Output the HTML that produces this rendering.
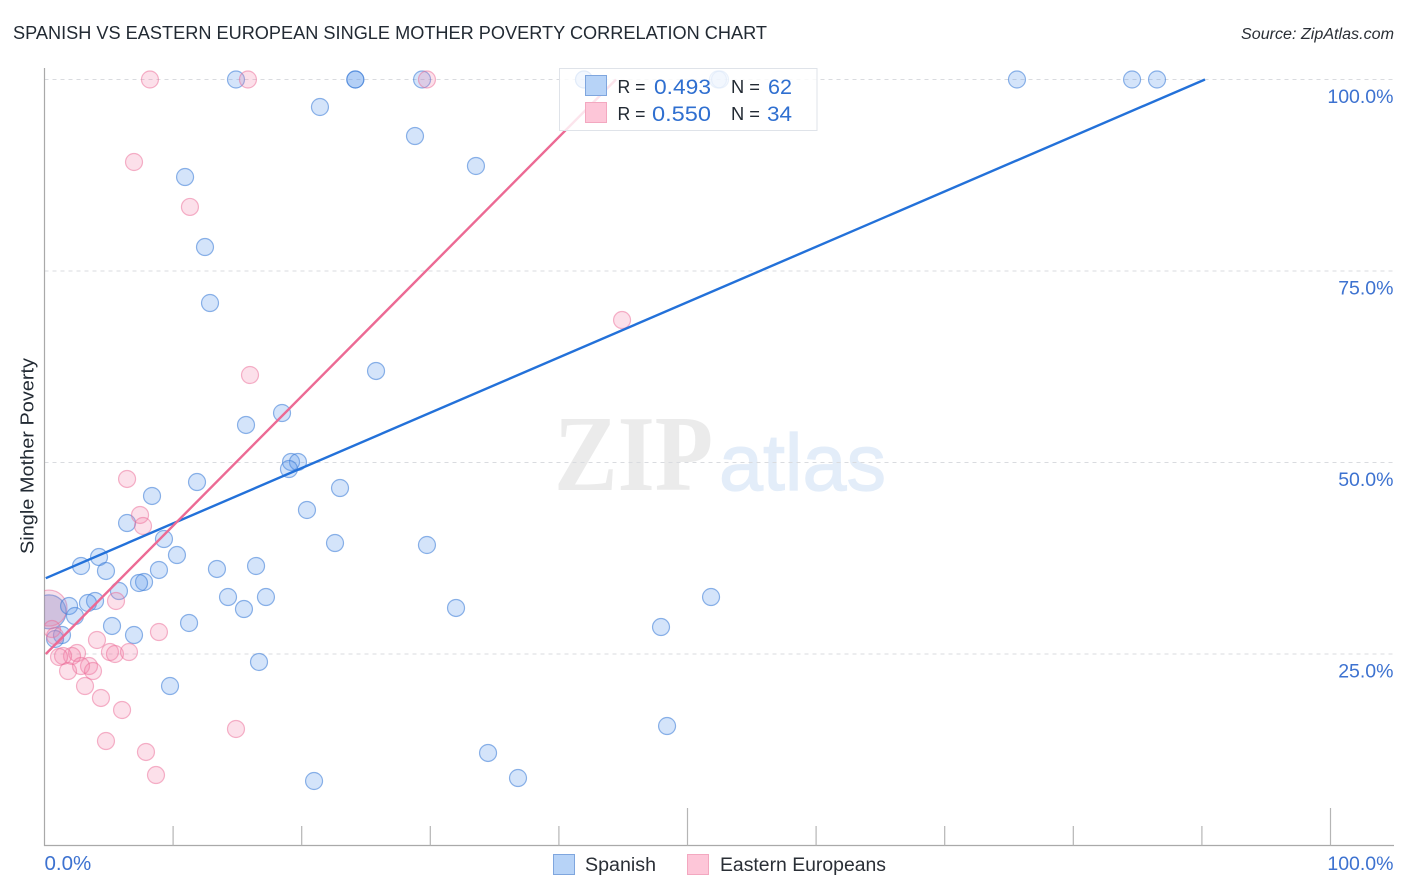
<!DOCTYPE html>
<html>
<head>
<meta charset="utf-8">
<title>Spanish vs Eastern European Single Mother Poverty Correlation Chart</title>
<style>
html,body{margin:0;padding:0;background:#fff;}
svg{display:block;font-family:"Liberation Sans",sans-serif;}
</style>
</head>
<body>
<svg id="chart" xmlns="http://www.w3.org/2000/svg" width="1406" height="892" viewBox="0 0 1406 892">
  <defs>
    <clipPath id="plot-clip"><rect x="44.5" y="60" width="1350" height="785.5"/></clipPath>
  </defs>
  <rect x="0" y="0" width="1406" height="892" fill="#ffffff"/>
  <text x="13" y="39" font-size="18.5" fill="#222a33" textLength="754" lengthAdjust="spacingAndGlyphs">SPANISH VS EASTERN EUROPEAN SINGLE MOTHER POVERTY CORRELATION CHART</text>
  <text x="1241" y="39" font-size="15.5" font-style="italic" fill="#2a2f36" textLength="153" lengthAdjust="spacingAndGlyphs">Source: ZipAtlas.com</text>
  <g>
    <text x="554" y="490" font-size="108" font-weight="bold" fill="#ebebeb" textLength="159" lengthAdjust="spacingAndGlyphs" style="font-family:'Liberation Serif',serif">ZIP</text>
    <text x="719" y="490" font-size="80" fill="#e3edf9" stroke="#e3edf9" stroke-width="1.2" textLength="167" lengthAdjust="spacingAndGlyphs">atlas</text>
  </g>
  <g id="grid"></g>
  <g id="axes"></g>
  <text transform="translate(33.5,554) rotate(-90)" font-size="18" fill="#222a33" textLength="196" lengthAdjust="spacingAndGlyphs">Single Mother Poverty</text>
  <g id="marks" clip-path="url(#plot-clip)"></g>
  <g id="lines"></g>
  <g>
    <rect x="559.5" y="68.5" width="257.5" height="62" fill="#ffffff" fill-opacity="0.82" stroke="#dfe3e9" stroke-width="1"/>
    <rect x="585.5" y="75.5" width="21" height="20" fill="#b7d3f7" stroke="#7fa6de" stroke-width="1"/>
    <rect x="585.5" y="102.5" width="21" height="20" fill="#fdc6d8" stroke="#f3a8c0" stroke-width="1"/>
    <text x="617.5" y="93" font-size="18.5" fill="#222a33" textLength="28" lengthAdjust="spacingAndGlyphs">R =</text>
    <text x="654" y="94" font-size="21" fill="#2f6fd0" textLength="57" lengthAdjust="spacingAndGlyphs">0.493</text>
    <text x="731" y="93" font-size="18.5" fill="#222a33" textLength="29" lengthAdjust="spacingAndGlyphs">N =</text>
    <text x="768" y="94" font-size="21" fill="#2f6fd0" textLength="24" lengthAdjust="spacingAndGlyphs">62</text>
    <text x="617.5" y="120" font-size="18.5" fill="#222a33" textLength="28" lengthAdjust="spacingAndGlyphs">R =</text>
    <text x="652" y="121" font-size="21" fill="#2f6fd0" textLength="59" lengthAdjust="spacingAndGlyphs">0.550</text>
    <text x="731" y="120" font-size="18.5" fill="#222a33" textLength="29" lengthAdjust="spacingAndGlyphs">N =</text>
    <text x="767" y="121" font-size="21" fill="#2f6fd0" textLength="25" lengthAdjust="spacingAndGlyphs">34</text>
  </g>
  <g>
    <rect x="553.5" y="854.5" width="21" height="20" fill="#b7d3f7" stroke="#7fa6de" stroke-width="1"/>
    <text x="585" y="871" font-size="19" fill="#2a2f36" textLength="71" lengthAdjust="spacingAndGlyphs">Spanish</text>
    <rect x="687.5" y="854.5" width="21" height="20" fill="#fdc6d8" stroke="#f3a8c0" stroke-width="1"/>
    <text x="720" y="871" font-size="19" fill="#2a2f36" textLength="166" lengthAdjust="spacingAndGlyphs">Eastern Europeans</text>
  </g>
<script>
var yTickValues = [25, 50, 75, 100];
var yTickLabels = ['25.0%', '50.0%', '75.0%', '100.0%'];
var xTickValues = [0, 10, 20, 30, 40, 50, 60, 70, 80, 90, 100];
var xEndValues = [0, 100];
var xEndLabels = ['0.0%', '100.0%'];

var spanishX = [14.89, 24.17, 24.17, 41.95, 29.36, 41.95, 52.37, 52.53, 75.62, 84.57, 86.51, 21.42, 28.81, 33.55, 10.93, 12.48, 12.87, 25.78, 18.47, 15.67, 19.17, 19.71, 19.01, 11.86, 22.98, 8.36, 20.41, 6.42, 9.29, 22.59, 29.74, 10.30, 4.24, 2.84, 13.41, 16.45, 4.78, 8.90, 7.74, 7.35, 5.79, 14.27, 17.22, 51.83, 3.93, 3.38, 1.91, 15.51, 32.00, 2.37, 11.24, 5.25, 47.94, 6.96, 1.36, 0.82, 16.68, 9.76, 48.41, 34.49, 36.82, 20.96];
var spanishY = [100, 100, 100, 100, 100, 100, 100, 100, 100, 100, 100, 96.41, 92.62, 88.71, 87.27, 78.13, 70.82, 61.95, 56.46, 54.90, 50.07, 50.07, 49.15, 47.45, 46.67, 45.63, 43.80, 42.10, 40.01, 39.49, 39.23, 37.92, 37.66, 36.49, 36.10, 36.49, 35.84, 35.97, 34.40, 34.27, 33.22, 32.44, 32.44, 32.44, 31.92, 31.66, 31.27, 30.87, 31.01, 29.96, 29.05, 28.66, 28.52, 27.48, 27.48, 26.96, 23.96, 20.82, 15.60, 12.08, 8.81, 8.42];
var spanishClusterX = [0.36];
var spanishClusterY = [30.5];

var easternX = [8.20, 15.82, 29.74, 6.96, 11.31, 44.91, 15.98, 6.42, 7.43, 7.66, 5.56, 8.90, 4.08, 5.09, 5.48, 6.57, 2.53, 2.14, 1.44, 1.13, 3.46, 2.84, 3.77, 1.83, 3.15, 4.39, 6.03, 14.89, 4.78, 7.89, 8.67, 0.58, 0.82];
var easternY = [100, 100, 100, 89.23, 83.36, 68.60, 61.42, 47.85, 43.15, 41.71, 31.92, 27.87, 26.83, 25.26, 25.00, 25.26, 25.13, 24.74, 24.74, 24.61, 23.43, 23.43, 22.78, 22.78, 20.82, 19.26, 17.69, 15.21, 13.64, 12.21, 9.20, 28.26, 27.35];
var easternClusterX = [0.35];
var easternClusterY = [31.0];

var spanishTrendX = [0.1, 90.24];
var spanishTrendY = [34.9, 100];
var easternTrendX = [0.1, 44.44];
var easternTrendY = [25.0, 100];

var NS = 'http://www.w3.org/2000/svg';
function xScale(v) { return 44.5 + v * 12.86; }
function yScale(v) { return 845.5 - v * 7.66; }
function make(tag, parent, attrs) {
  var el = document.createElementNS(NS, tag);
  for (var k in attrs) { el.setAttribute(k, attrs[k]); }
  parent.appendChild(el);
  return el;
}

var grid = document.getElementById('grid');
yTickValues.forEach(function (v) {
  var line = make('line', grid, { x1: 44.5, x2: 1393.5, y1: yScale(v), y2: yScale(v), stroke: '#d9dbdf', 'stroke-width': 1, 'stroke-dasharray': '4 4' });
  
  
});

var axes = document.getElementById('axes');
var yAxis = make('line', axes, { x1: 44.5, x2: 44.5, y1: 68, y2: 846, stroke: '#a9a9a9', 'stroke-width': 1.2 });


var xAxis = make('line', axes, { x1: 44, x2: 1394, y1: 845.5, y2: 845.5, stroke: '#a9a9a9', 'stroke-width': 1.2 });



xTickValues.forEach(function (v) {
  if (v === 0) { return; }
  var major = v === 50 || v === 100;
  var tick = make('line', axes, { x1: xScale(v), x2: xScale(v), y1: major ? 808 : 826, y2: 845.5, stroke: '#b5b5b5', 'stroke-width': 1.2 });
  
  
});

yTickValues.forEach(function (v, i) {
  var t = make('text', axes, { x: 1393.5, y: yScale(v) + 23.5, 'font-size': 19.5, fill: '#3d72d0', 'text-anchor': 'end' });
  
  
  t.textContent = yTickLabels[i];
});

xEndValues.forEach(function (v, i) {
  var t = make('text', axes, { x: v === 0 ? xScale(v) : 1393.5, y: 870, 'font-size': v === 0 ? 20.5 : 19.5, fill: '#3d72d0', 'text-anchor': v === 0 ? 'start' : 'end' });
  
  
  t.textContent = xEndLabels[i];
});

var marks = document.getElementById('marks');
function drawPoints(xs, ys, radius, fill, stroke, name) {
  xs.forEach(function (x, i) {
    var c = make('circle', marks, { cx: xScale(x), cy: yScale(ys[i]), r: radius, fill: fill, stroke: stroke, 'stroke-width': 1.2 });
    
    
  });
}
var blueFill = 'rgba(96,155,235,0.27)';
var blueStroke = 'rgba(62,125,215,0.58)';
var pinkFill = 'rgba(245,130,170,0.25)';
var pinkStroke = 'rgba(235,105,150,0.50)';
drawPoints(spanishClusterX, spanishClusterY, 17, 'rgba(96,120,200,0.30)', blueStroke, 'spanish-cluster-point');
drawPoints(easternClusterX, easternClusterY, 18, 'rgba(215,120,170,0.22)', pinkStroke, 'eastern-cluster-point');
drawPoints(spanishX, spanishY, 8.5, blueFill, blueStroke, 'spanish-point');
drawPoints(easternX, easternY, 8.5, pinkFill, pinkStroke, 'eastern-point');

var lines = document.getElementById('lines');
var trendA = make('line', lines, { x1: xScale(spanishTrendX[0]), y1: yScale(spanishTrendY[0]), x2: xScale(spanishTrendX[1]), y2: yScale(spanishTrendY[1]), stroke: '#2371d9', 'stroke-width': 2.4 });


var trendB = make('line', lines, { x1: xScale(easternTrendX[0]), y1: yScale(easternTrendY[0]), x2: xScale(easternTrendX[1]), y2: yScale(easternTrendY[1]), stroke: '#ec6a94', 'stroke-width': 2.4 });


</script>
</svg>
</body>
</html>
